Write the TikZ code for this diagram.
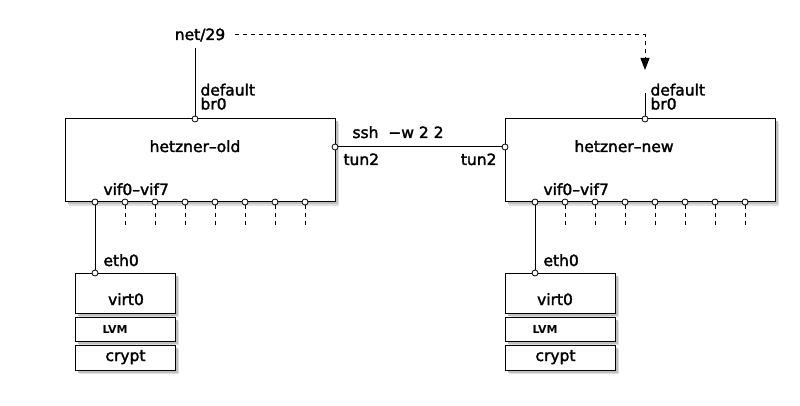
\documentclass[tikz,border=0pt]{standalone}
\usepackage{fontspec}
\setmainfont{DejaVu Sans}
\newfontfamily\diagfont{DejaVu Sans}[FakeBold=2]
\usetikzlibrary{arrows.meta,shadows}

\begin{document}
\begin{tikzpicture}[x=1pt, y=-1pt, line width=1pt,
  lbl/.style={font=\diagfont\fontsize{15.5}{13}\selectfont, inner sep=0pt},
  small/.style={font=\fontsize{11}{12}\selectfont\bfseries, inner sep=0pt},
  host/.style={draw, fill=white, inner sep=0pt,
    general shadow={shadow xshift=4pt, shadow yshift=-4pt, fill=black!12},
    general shadow={shadow xshift=2.5pt, shadow yshift=-2.5pt, fill=black!25}},
  port/.style={circle, draw, fill=white, line width=0.8pt, inner sep=0pt, minimum size=6pt},
  stub/.style={dash pattern=on 4pt off 4pt},
  link/.style={dash pattern=on 4pt off 4pt, -{Triangle[length=12pt, width=9pt]}}]

% Fix the page size
\useasboundingbox (0,0) rectangle (800,406);

% Draw the two hosts
\node[host, minimum width=270pt, minimum height=83pt] (old) at (200,160.5) {};
\node[host, minimum width=270pt, minimum height=83pt] (new) at (640,160.5) {};
\node[lbl, anchor=base] (oldname) at (195,152) {hetzner–old};
\node[lbl, anchor=base] (newname) at (624,152) {hetzner–new};

% Draw the disk stacks
\node[host, minimum width=100pt, minimum height=40pt] (oldvirt) at (125,293) {};
\node[host, minimum width=100pt, minimum height=24pt] (oldlvm) at (125,329) {};
\node[host, minimum width=100pt, minimum height=25pt] (oldcrypt) at (125,357.5) {};
\node[host, minimum width=110pt, minimum height=40pt] (newvirt) at (560,293) {};
\node[host, minimum width=110pt, minimum height=24pt] (newlvm) at (560,329) {};
\node[host, minimum width=110pt, minimum height=25pt] (newcrypt) at (560,357.5) {};
\node[lbl, anchor=base] (oldvirtl) at (126,305) {virt0};
\node[small, anchor=base] (oldlvml) at (115,333) {LVM};
\node[lbl, anchor=base] (oldcryptl) at (125.5,361) {crypt};
\node[lbl, anchor=base] (newvirtl) at (555,305) {virt0};
\node[small, anchor=base] (newlvml) at (545,333) {LVM};
\node[lbl, anchor=base] (newcryptl) at (555.5,361) {crypt};

% Free ends of the lines
\coordinate (netdrop) at (195,48);
\coordinate (netdash) at (235,35);
\coordinate (netturn) at (645,35);
\coordinate (newtip) at (645,70);
\coordinate (newdrop) at (645,93);

% Place the ports
\node[port] (oldbr) at (195,119) {};
\node[port] (newbr) at (645,119) {};
\node[port] (oldtun) at (335,147) {};
\node[port] (newtun) at (505,147) {};
\node[port] (oldeth) at (95,273) {};
\node[port] (neweth) at (535,273) {};

\node[port] (oldv0) at (95,202) {};
\node[port] (oldv1) at (125,202) {};
\node[port] (oldv2) at (155,202) {};
\node[port] (oldv3) at (185,202) {};
\node[port] (oldv4) at (215,202) {};
\node[port] (oldv5) at (245,202) {};
\node[port] (oldv6) at (275,202) {};
\node[port] (oldv7) at (305,202) {};
\node[port] (newv0) at (535,202) {};
\node[port] (newv1) at (565,202) {};
\node[port] (newv2) at (595,202) {};
\node[port] (newv3) at (625,202) {};
\node[port] (newv4) at (655,202) {};
\node[port] (newv5) at (685,202) {};
\node[port] (newv6) at (715,202) {};
\node[port] (newv7) at (745,202) {};

% Draw the links
\draw (netdrop) -- (oldbr);
\draw (newdrop) -- (newbr);
\draw[link] (netdash) -- (netturn) -- (newtip);
\draw (oldtun) -- (newtun);
\draw (oldv0) -- (oldeth);
\draw (newv0) -- (neweth);

% Draw the open vif stubs
\draw[stub] (oldv1) -- ++(0,26);
\draw[stub] (oldv2) -- ++(0,26);
\draw[stub] (oldv3) -- ++(0,26);
\draw[stub] (oldv4) -- ++(0,26);
\draw[stub] (oldv5) -- ++(0,26);
\draw[stub] (oldv6) -- ++(0,26);
\draw[stub] (oldv7) -- ++(0,26);
\draw[stub] (newv1) -- ++(0,26);
\draw[stub] (newv2) -- ++(0,26);
\draw[stub] (newv3) -- ++(0,26);
\draw[stub] (newv4) -- ++(0,26);
\draw[stub] (newv5) -- ++(0,26);
\draw[stub] (newv6) -- ++(0,26);
\draw[stub] (newv7) -- ++(0,26);

% Place the labels
\node[lbl, anchor=base] (net) at (200,40) {net/29};
\node[lbl, anchor=base west] (olddef) at (200,95.5) {default};
\node[lbl, anchor=base west] (oldbrl) at (200,109.5) {br0};
\node[lbl, anchor=base west] (newdef) at (650,95.5) {default};
\node[lbl, anchor=base west] (newbrl) at (650,109.5) {br0};
\node[lbl, anchor=base west] (ssh) at (352,138) {ssh\ \ −w 2 2};
\node[lbl, anchor=base west] (oldtunl) at (343,165) {tun2};
\node[lbl, anchor=base east] (newtunl) at (497,165) {tun2};
\node[lbl, anchor=base west] (oldvif) at (103,195) {vif0–vif7};
\node[lbl, anchor=base west] (newvif) at (543,195) {vif0–vif7};
\node[lbl, anchor=base west] (oldethl) at (103,266) {eth0};
\node[lbl, anchor=base west] (newethl) at (543,266) {eth0};

\end{tikzpicture}
\end{document}
